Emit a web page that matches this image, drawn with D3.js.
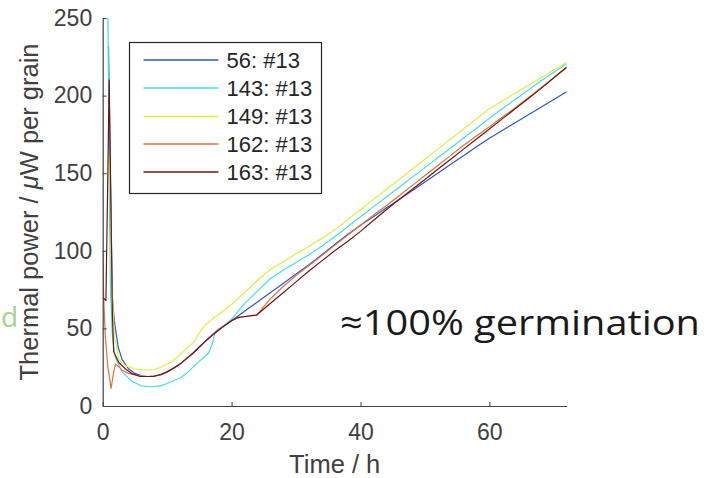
<!DOCTYPE html>
<html>
<head>
<meta charset="utf-8">
<script src="https://cdn.jsdelivr.net/npm/d3@7"></script>
<style>
  html, body { margin: 0; padding: 0; background: #ffffff; }
  svg { display: block; }
</style>
</head>
<body>
<svg id="chart" width="707" height="478"></svg>
<script>
// ---------- data ----------
const seriesNames = ["56: #13", "143: #13", "149: #13", "162: #13", "163: #13"];
const seriesColors = ["#2f58c8", "#40e0e0", "#e2ee3c", "#e0723c", "#6e1616"];

const xTicks = [0, 20, 40, 60];
const yTicks = [0, 50, 100, 150, 200, 250];

// [time (h), thermal power (uW per grain)]
const s56 = [[0.9,232],[1.2,150],[1.5,70],[1.8,55],[2.4,38],[3,30],[4,24],[5,21],[6,19.5],[7,19],[8,19.2],[9,20],[10,22],[11,24.5],[12,27],[13,30.5],[14,34],[15,38],[16,42],[17,46],[18,49.5],[20,55],[22,61],[24,67],[26,73],[28,79],[30,85],[32,91],[34,97.5],[36,104],[38,110.5],[40,116.5],[42,122],[44,127.5],[46,133],[48,138.7],[50,144.3],[52,150],[54,155.7],[56,161.3],[58,167],[60,172.5],[62,177.5],[64,182.5],[66,187.5],[68,192.5],[70,197.5],[72,202.5]];
const s143 = [[0.8,260],[1.0,150],[1.2,75],[1.5,45],[1.9,32],[3,22],[4.5,16],[6,13],[7.5,12.4],[9,13],[10,14.5],[12,18],[13,21],[14.5,27],[16.4,34],[17,40],[17.4,46.8],[18,49],[20,56],[22,66],[24,74],[26,82],[28,87.5],[30,92.5],[32,97.5],[34,103],[36,109],[38,115.5],[40,122],[42,128.3],[44,134.6],[46,141],[48,147.3],[50,153.6],[52,160],[54,166.3],[56,172.7],[58,179],[60,185.4],[62,191.5],[64,197.5],[66,203.5],[68,209.5],[70,215],[72,220.5]];
const s149 = [[0.9,163],[1.1,150],[1.4,80],[1.8,45],[2.5,30],[3.5,26],[5,24],[6.6,23.2],[8,23.5],[9,25],[10.7,28.5],[12,33],[13,37],[14.3,42],[15.1,48],[16,52.5],[17,56],[18,59],[20,65.5],[22,73],[24,81],[26,88],[28,93],[30,98],[32,103],[34,108],[36,113.5],[38,120],[40,126.5],[42,133],[44,139.5],[46,146],[48,152.5],[50,159],[52,165.5],[54,172],[56,178.5],[58,185],[60,191.5],[62,196.5],[64,201.5],[66,206.5],[68,211.5],[70,216.5],[72,221.5]];
const s162 = [[0,100],[0.15,70],[0.4,45],[0.8,25],[1.3,11.4],[1.7,22],[2.0,27],[2.6,25],[3,23],[4,21],[5,20],[6,19.3],[7,19],[8,19.3],[9,20.3],[10,22],[11,24.3],[12,27],[13,30.5],[14,34],[15,38],[16,42],[17,45.5],[18,49],[19,52],[20,55],[21,57],[21.8,57.5],[23.9,58.6],[26,69],[28,77],[30,84],[32,90.5],[34,97],[36,103.5],[38,110],[40,116.5],[42,123],[44,129],[46,135.5],[48,142],[50,148.5],[52,155],[54,161.5],[56,168],[58,174],[60,180],[62,186],[64,192],[66,198.5],[68,205],[70,211.5],[72,218]];
const s163 = [[0,70],[0.5,68],[0.8,150],[1.0,210],[1.2,150],[1.5,60],[1.7,35],[2.5,28],[3.5,24],[4.5,21],[5.8,19],[7.8,19],[9,20.3],[10,22],[11,24.3],[12,27],[13,30.5],[14,34],[15,38],[16,42],[17,45.5],[18,49],[19,52],[20,55],[21,57],[21.8,57.5],[23.9,58.6],[26,66],[28,73],[30,80],[32,87],[34,93.5],[36,100],[38,106],[40,112.5],[42,119.5],[44,126.5],[46,133],[48,139.5],[50,146],[52,152.5],[54,159],[56,165.5],[58,172],[60,178.5],[62,185],[64,191.5],[66,198],[68,204.5],[70,211.5],[72,218.5]];
const seriesData = [s56, s143, s149, s162, s163];

// ---------- drawing ----------
const svg = d3.select("#chart");
svg.append("rect").attr("width", 707).attr("height", 478).attr("fill", "#ffffff");

const x = d3.scaleLinear().domain([0, 72]).range([102.7, 566.7]);
const y = d3.scaleLinear().domain([0, 250]).range([406, 18]);

const axisColor = "#404040";
const tickFont = "'Liberation Sans', Arial, Helvetica, sans-serif";

svg.append("defs").append("clipPath").attr("id", "plotclip")
  .append("rect")
  .attr("x", x(0)).attr("y", y(250))
  .attr("width", x(72) - x(0)).attr("height", y(0) - y(250));

// lines
const line = d3.line().x(d => x(d[0])).y(d => y(d[1]));
const lines = svg.append("g").attr("clip-path", "url(#plotclip)");
seriesData.forEach((s, i) => {
  lines.append("path")
    .attr("d", line(s))
    .attr("fill", "none")
    .attr("stroke", seriesColors[i])
    .attr("stroke-width", 1.2)
    .attr("stroke-linejoin", "round");
});

// axes
const xAxis = d3.axisBottom(x).tickValues(xTicks).tickSizeInner(-4).tickSizeOuter(0).tickPadding(17.5);
const yAxis = d3.axisLeft(y).tickValues(yTicks).tickSizeInner(-4).tickSizeOuter(0).tickPadding(10.5);

const gx = svg.append("g").attr("transform", `translate(0,${y(0)})`).call(xAxis);
const gy = svg.append("g").attr("transform", `translate(${x(0)},0)`).call(yAxis);
[gx, gy].forEach(g => {
  g.select(".domain").attr("stroke", axisColor).attr("stroke-width", 1.2);
  g.selectAll(".tick line").attr("stroke", axisColor).attr("stroke-width", 1);
  g.selectAll(".tick text").attr("fill", axisColor)
    .style("font-family", tickFont).style("font-size", "23px");
});

// axis labels
svg.append("text")
  .attr("x", (x(0) + x(72)) / 2).attr("y", 473)
  .attr("text-anchor", "middle")
  .attr("fill", axisColor)
  .style("font-family", tickFont).style("font-size", "25.5px")
  .text("Time / h");

const yl = svg.append("text")
  .attr("transform", `translate(38,${(y(0) + y(250)) / 2}) rotate(-90)`)
  .attr("text-anchor", "middle")
  .attr("fill", axisColor)
  .style("font-family", tickFont).style("font-size", "25.5px");
yl.append("tspan").text("Thermal power / ");
yl.append("tspan").style("font-style", "italic").text("\u03BC");
yl.append("tspan").text("W per grain");

// legend
const lg = svg.append("g");
lg.append("rect")
  .attr("x", 129.5).attr("y", 42.5).attr("width", 192).attr("height", 151)
  .attr("fill", "#ffffff").attr("stroke", "#262626").attr("stroke-width", 1.2);
const rowY = [60, 88, 116.5, 144, 172];
seriesNames.forEach((n, i) => {
  lg.append("line")
    .attr("x1", 143.5).attr("x2", 218.5)
    .attr("y1", rowY[i]).attr("y2", rowY[i])
    .attr("stroke", seriesColors[i]).attr("stroke-width", 1.5);
  lg.append("text")
    .attr("x", 226.5).attr("y", rowY[i]).attr("dy", "0.36em")
    .attr("fill", "#262626")
    .style("font-family", tickFont).style("font-size", "22px")
    .text(n);
});

// annotation
svg.append("text")
  .attr("x", 340).attr("y", 335)
  .attr("fill", "#1a1a1a")
  .attr("textLength", 360).attr("lengthAdjust", "spacingAndGlyphs")
  .style("font-family", "'Open Sans', 'Noto Sans', sans-serif").style("font-size", "35px")
  .text("\u2248100% germination");

// green letter at left edge
svg.append("text")
  .attr("x", 1).attr("y", 327)
  .attr("text-anchor", "start")
  .attr("fill", "#a9d18e")
  .style("font-family", "'Open Sans', 'Noto Sans', sans-serif").style("font-size", "28px")
  .text("d");
</script>
</body>
</html>
